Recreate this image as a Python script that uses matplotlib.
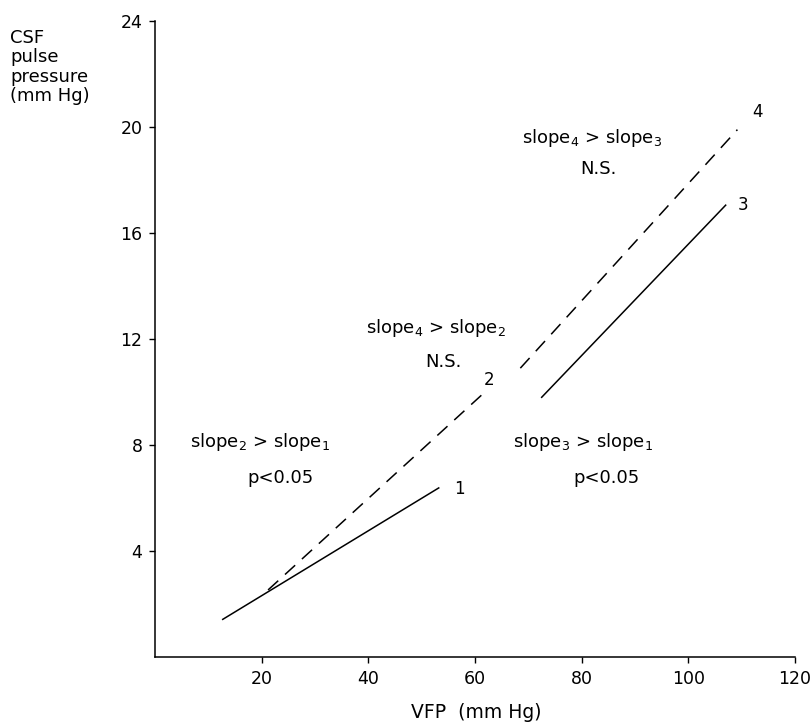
import matplotlib
matplotlib.use("Agg")
import matplotlib.pyplot as plt

plt.rcParams['font.family'] = ['DejaVu Sans']
plt.rcParams['mathtext.default'] = 'regular'

# Regression line endpoints (VFP, CSF pulse pressure)
line1_x = [12.7, 53.2]
line1_y = [1.42, 6.38]
line2_x = [21.2, 62.3]
line2_y = [2.53, 10.08]
line3_x = [72.5, 107.0]
line3_y = [9.8, 17.05]
line4_x = [68.5, 109.2]
line4_y = [10.9, 19.9]

line_labels = ["1", "2", "3", "4"]
label_pos_x = [56.0, 61.6, 109.3, 111.9]
label_pos_y = [6.35, 10.45, 17.05, 20.55]

x_ticks = [20, 40, 60, 80, 100, 120]
y_ticks = [4, 8, 12, 16, 20, 24]

fig = plt.figure(figsize=(8.10, 7.26), dpi=100)
ax = fig.add_axes([155 / 810, 69 / 726, 640 / 810, 636 / 726])

lw = 1.1
ax.plot(line1_x, line1_y, color='black', lw=lw)
ax.plot(line2_x, line2_y, color='black', lw=lw, dashes=(9, 6))
ax.plot(line3_x, line3_y, color='black', lw=lw)
ax.plot(line4_x, line4_y, color='black', lw=lw, dashes=(9, 6))

for t, lx, ly in zip(line_labels, label_pos_x, label_pos_y):
    ax.text(lx, ly, t, fontsize=12, ha='left', va='center')

fs = 13
ax.text(6.5, 8.1, r"slope$_2$ > slope$_1$", fontsize=fs, ha='left', va='center')
ax.text(17.3, 6.75, "p<0.05", fontsize=fs, ha='left', va='center')
ax.text(39.5, 12.4, r"slope$_4$ > slope$_2$", fontsize=fs, ha='left', va='center')
ax.text(50.7, 11.15, "N.S.", fontsize=fs, ha='left', va='center')
ax.text(67.2, 8.1, r"slope$_3$ > slope$_1$", fontsize=fs, ha='left', va='center')
ax.text(78.5, 6.75, "p<0.05", fontsize=fs, ha='left', va='center')
ax.text(68.8, 19.6, r"slope$_4$ > slope$_3$", fontsize=fs, ha='left', va='center')
ax.text(79.8, 18.4, "N.S.", fontsize=fs, ha='left', va='center')

ax.set_xlim(0, 120)
ax.set_ylim(0, 24)
ax.set_xticks(x_ticks)
ax.set_yticks(y_ticks)
ax.tick_params(direction='out', length=4, width=1, labelsize=12.5, pad=5)
for s in ['top', 'right']:
    ax.spines[s].set_visible(False)
for s in ['left', 'bottom']:
    ax.spines[s].set_linewidth(1.1)

fig.text(476 / 810, 1 - 712 / 726, "VFP  (mm Hg)", fontsize=13.5, ha='center', va='center')
fig.text(10 / 810, 1 - 29 / 726, "CSF\npulse\npressure\n(mm Hg)", fontsize=13,
         ha='left', va='top', linespacing=1.1)

fig.savefig("out.png", dpi=100)
